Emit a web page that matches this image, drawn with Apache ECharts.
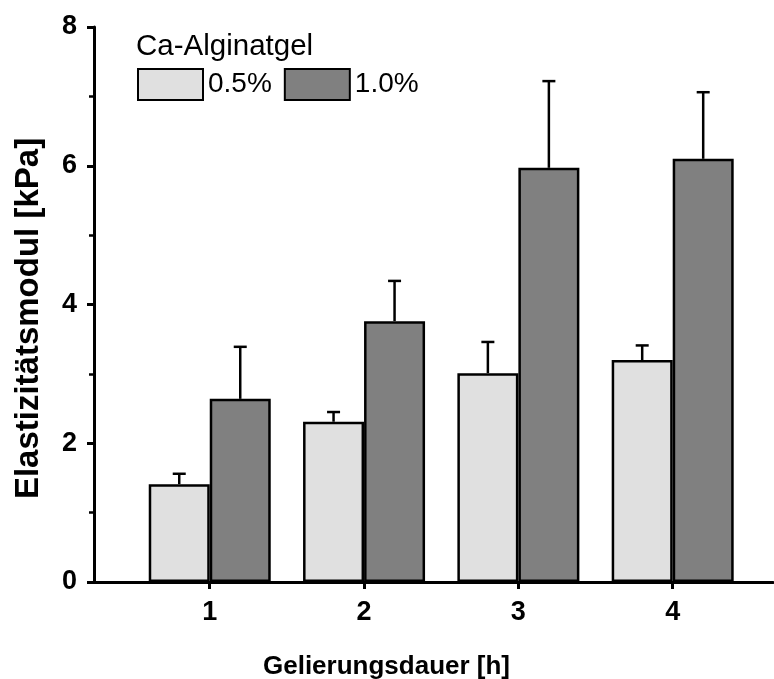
<!DOCTYPE html>
<html>
<head>
<meta charset="utf-8">
<script src="https://cdn.jsdelivr.net/npm/echarts@6/dist/echarts.min.js"></script>
<style>
  html, body { margin: 0; padding: 0; background: #fff; }
  #main { width: 774px; height: 679px; }
</style>
</head>
<body>
<div id="main"></div>
<script>
// Gelierungsdauer [h]
var hours = [1, 2, 3, 4];
// Elastizitätsmodul [kPa], Mittelwert und Fehler (nur nach oben)
var gel05 = [1.41, 2.31, 3.01, 3.20];
var gel05Err = [0.15, 0.14, 0.45, 0.21];
var gel10 = [2.64, 3.76, 5.97, 6.10];
var gel10Err = [0.75, 0.58, 1.25, 0.96];
var yTicks = [0, 2, 4, 6, 8];

var FONT = 'Liberation Sans, Arial, sans-serif';
var BAR_W = 61;

var chart = echarts.init(document.getElementById('main'));

function pairs(vals) {
  return hours.map(function (h, i) { return [h, vals[i]]; });
}

// Fehlerbalken: x, Mittelwert, Fehler, Versatz (-1 links / +1 rechts)
var errData = [];
hours.forEach(function (h, i) {
  errData.push([h, gel05[i], gel05Err[i], -1]);
  errData.push([h, gel10[i], gel10Err[i], 1]);
});

function renderErr(params, api) {
  var base = api.coord([api.value(0), api.value(1)]);
  var top = api.coord([api.value(0), api.value(1) + api.value(2)]);
  var x = base[0] + api.value(3) * BAR_W / 2;
  var style = { stroke: '#000', lineWidth: 2.5 };
  return {
    type: 'group',
    children: [
      { type: 'line', shape: { x1: x, y1: base[1], x2: x, y2: top[1] }, style: style },
      { type: 'line', shape: { x1: x - 6.5, y1: top[1], x2: x + 6.5, y2: top[1] }, style: style }
    ]
  };
}

var option = {
  animation: false,
  backgroundColor: '#fff',
  title: {
    text: 'Ca-Alginatgel',
    left: 136,
    top: 32,
    padding: 0,
    textStyle: { fontFamily: FONT, fontSize: 29.5, fontWeight: 'normal', color: '#000' }
  },
  legend: {
    data: ['0.5%', '1.0%'],
    icon: 'rect',
    left: 137,
    top: 68,
    padding: 0,
    itemWidth: 65,
    itemHeight: 31,
    itemGap: 12,
    textStyle: { fontFamily: FONT, fontSize: 28, color: '#000' }
  },
  grid: {
    left: 94,
    top: 27,
    width: 679,
    bottom: 97,
    containLabel: false,
    outerBoundsMode: 'none'
  },
  xAxis: {
    type: 'value',
    min: 0.25,
    max: 4.65,
    name: 'Gelierungsdauer [h]',
    nameLocation: 'middle',
    nameGap: 72,
    nameTextStyle: {
      fontFamily: FONT, fontSize: 26, fontWeight: 'bold', color: '#000',
      padding: [0, 94, 0, 0]
    },
    axisLine: { lineStyle: { color: '#000', width: 3 } },
    axisTick: { show: true, length: 7, lineStyle: { color: '#000', width: 3 }, customValues: hours },
    axisLabel: {
      customValues: hours,
      margin: 17,
      fontFamily: FONT, fontSize: 27, fontWeight: 'bold', color: '#000'
    },
    splitLine: { show: false }
  },
  yAxis: {
    type: 'value',
    min: 0,
    max: 8,
    interval: 2,
    name: 'Elastizitätsmodul [kPa]',
    nameLocation: 'middle',
    nameGap: 49,
    nameTextStyle: {
      fontFamily: FONT, fontSize: 33, fontWeight: 'bold', color: '#000',
      padding: [0, 28, 0, 0]
    },
    axisLine: { show: true, lineStyle: { color: '#000', width: 3 } },
    axisTick: { show: true, length: 7, lineStyle: { color: '#000', width: 3 } },
    minorTick: { show: true, splitNumber: 2, length: 5, lineStyle: { color: '#000', width: 2.5 } },
    axisLabel: {
      customValues: yTicks,
      margin: 17,
      fontFamily: FONT, fontSize: 27, fontWeight: 'bold', color: '#000'
    },
    splitLine: { show: false }
  },
  series: [
    {
      name: '0.5%',
      type: 'bar',
      barWidth: BAR_W,
      barGap: '0%',
      data: pairs(gel05),
      itemStyle: { color: '#e0e0e0', borderColor: '#000', borderWidth: 2.5 },
      z: 2
    },
    {
      name: '1.0%',
      type: 'bar',
      barWidth: BAR_W,
      barGap: '0%',
      data: pairs(gel10),
      itemStyle: { color: '#808080', borderColor: '#000', borderWidth: 2.5 },
      z: 2
    },
    {
      type: 'custom',
      renderItem: renderErr,
      data: errData,
      z: 1,
      silent: true
    }
  ]
};

chart.setOption(option);
</script>
</body>
</html>
